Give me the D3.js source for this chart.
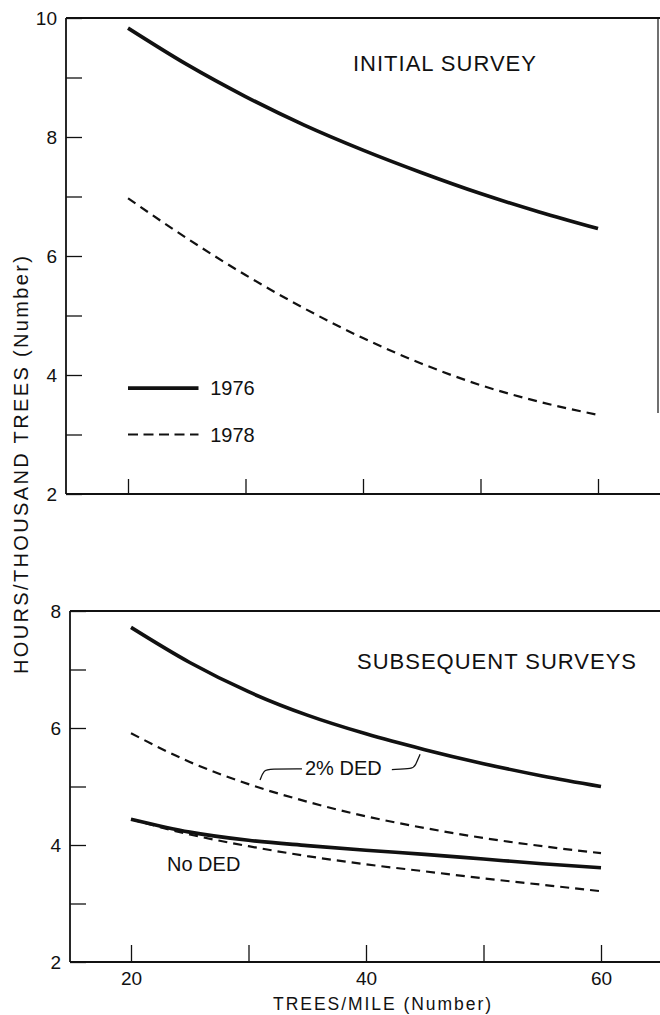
<!doctype html>
<html lang="en">
<head>
    <meta charset="UTF-8">
    <title>Hours per thousand trees</title>
    <style>
        body { margin: 0; background: #fff; }
        svg text { font-family: "Liberation Sans", Arial, Helvetica, sans-serif; fill: #111; }
        .tick line { stroke: #111; stroke-width: 1.3; }
        .tick text { font-size: 19px; }
    </style>
</head>
<body>
<svg id="chart" width="660" height="1015"></svg>
<script src="https://d3js.org/d3.v7.min.js"></script>
<script>
    // trees per mile (x) and hours per thousand trees (y)
    const trees = [20, 25, 30, 35, 40, 45, 50, 55, 60];
    const initial1976 = [9.83, 9.22, 8.68, 8.20, 7.78, 7.40, 7.05, 6.74, 6.46];
    const initial1978 = [6.97, 6.30, 5.68, 5.12, 4.62, 4.19, 3.83, 3.55, 3.33];
    const ded1976 = [7.72, 7.12, 6.62, 6.22, 5.90, 5.63, 5.39, 5.18, 5.00];
    const ded1978 = [5.91, 5.42, 5.04, 4.74, 4.49, 4.29, 4.12, 3.98, 3.86];
    const noDed1976 = [4.44, 4.22, 4.08, 3.99, 3.91, 3.84, 3.76, 3.68, 3.61];
    const noDed1978 = [4.44, 4.18, 3.98, 3.81, 3.67, 3.55, 3.43, 3.32, 3.21];

    const xTicks = [20, 30, 40, 50, 60];
    const xLabels = [20, 40, 60];
    const topYTicks = [2, 3, 4, 5, 6, 7, 8, 9, 10];
    const botYTicks = [2, 3, 4, 5, 6, 7, 8];

    const svg = d3.select("#chart");
    const ink = "#111";

    // panel frames
    const upper = {left: 66, top: 18, bottom: 494, right: 660},
        lower = {left: 70, top: 611, bottom: 962, right: 660};

    const xTop = d3.scaleLinear().domain([20, 60]).range([128, 598]);
    const yTop = d3.scaleLinear().domain([2, 10]).range([upper.bottom, upper.top]);
    const xBot = d3.scaleLinear().domain([20, 60]).range([131, 601]);
    const yBot = d3.scaleLinear().domain([2, 8]).range([lower.bottom, lower.top]);

    function frame(p, rightEnd) {
        let g = svg.append("g").attr("stroke", ink).attr("stroke-width", 1.8).attr("fill", "none");
        g.append("line").attr("x1", p.left).attr("x2", p.right).attr("y1", p.top).attr("y2", p.top);
        g.append("line").attr("x1", p.left).attr("x2", p.right).attr("y1", p.bottom).attr("y2", p.bottom);
        g.append("line").attr("x1", p.left).attr("x2", p.left).attr("y1", p.top).attr("y2", p.bottom);
        if (rightEnd) {
            g.append("line").attr("x1", 658).attr("x2", 658).attr("y1", p.top).attr("y2", rightEnd)
                .attr("stroke-width", 1.2);
        }
    }
    frame(upper, 413);
    frame(lower, null);

    // y axes, ticks pointing inwards, labels on even values only
    svg.append("g")
        .attr("transform", "translate(" + upper.left + ",0)")
        .call(d3.axisLeft(yTop).tickValues(topYTicks).tickSize(-16).tickPadding(9)
            .tickFormat(d => d % 2 === 0 ? d : ""))
        .call(g => g.select(".domain").remove());

    svg.append("g")
        .attr("transform", "translate(" + lower.left + ",0)")
        .call(d3.axisLeft(yBot).tickValues(botYTicks).tickSize(-16).tickPadding(9)
            .tickFormat(d => d % 2 === 0 ? d : ""))
        .call(g => g.select(".domain").remove());

    // x axes
    svg.append("g")
        .attr("transform", "translate(0," + upper.bottom + ")")
        .call(d3.axisBottom(xTop).tickValues(xTicks).tickSize(-15).tickFormat(""))
        .call(g => g.select(".domain").remove());

    svg.append("g")
        .attr("transform", "translate(0," + lower.bottom + ")")
        .call(d3.axisBottom(xBot).tickValues(xTicks).tickSize(-17).tickPadding(10)
            .tickFormat(d => xLabels.includes(d) ? d : ""))
        .call(g => g.select(".domain").remove());

    // curves
    function curve(xs, ys, x, y, dashed) {
        let line = d3.line()
            .x((d, i) => x(xs[i]))
            .y(d => y(d))
            .curve(d3.curveMonotoneX);
        svg.append("path")
            .datum(ys)
            .attr("fill", "none")
            .attr("stroke", ink)
            .attr("stroke-width", dashed ? 2.2 : 3.6)
            .attr("stroke-dasharray", dashed ? "9,6" : null)
            .attr("d", line);
    }
    curve(trees, initial1976, xTop, yTop, false);
    curve(trees, initial1978, xTop, yTop, true);
    curve(trees, ded1976, xBot, yBot, false);
    curve(trees, ded1978, xBot, yBot, true);
    curve(trees, noDed1976, xBot, yBot, false);
    curve(trees, noDed1978, xBot, yBot, true);

    // legend
    const legend = [
        {label: "1976", y: 3.78, dashed: false},
        {label: "1978", y: 3.0, dashed: true}
    ];
    legend.forEach(function (l) {
        svg.append("line")
            .attr("x1", xTop(20)).attr("x2", xTop(26))
            .attr("y1", yTop(l.y)).attr("y2", yTop(l.y))
            .attr("stroke", ink)
            .attr("stroke-width", l.dashed ? 2.2 : 3.6)
            .attr("stroke-dasharray", l.dashed ? "10,5.5" : null);
        svg.append("text")
            .attr("x", xTop(27)).attr("y", yTop(l.y))
            .attr("dy", "0.36em")
            .attr("font-size", 20)
            .text(l.label);
    });

    // titles
    svg.append("text")
        .attr("x", 353).attr("y", 71)
        .attr("font-size", 22).attr("letter-spacing", 1)
        .text("INITIAL SURVEY");
    svg.append("text")
        .attr("x", 357).attr("y", 669)
        .attr("font-size", 22).attr("letter-spacing", 1)
        .text("SUBSEQUENT SURVEYS");

    // annotations
    svg.append("text")
        .attr("x", 305).attr("y", 775)
        .attr("font-size", 20)
        .text("2% DED");
    svg.append("text")
        .attr("x", 167).attr("y", 871)
        .attr("font-size", 20)
        .text("No DED");

    let leader = d3.line().x(d => xBot(d[0])).y(d => yBot(d[1])).curve(d3.curveBasis);
    svg.append("path")
        .attr("d", leader([[30.98, 5.11], [31.3, 5.28], [31.8, 5.30], [34.55, 5.30]]))
        .attr("fill", "none").attr("stroke", ink).attr("stroke-width", 1.3);
    svg.append("path")
        .attr("d", leader([[42.2, 5.29], [44.0, 5.30], [44.2, 5.36], [44.6, 5.55]]))
        .attr("fill", "none").attr("stroke", ink).attr("stroke-width", 1.3);

    // axis titles
    svg.append("text")
        .attr("transform", "translate(28,465) rotate(-90)")
        .attr("text-anchor", "middle")
        .attr("font-size", 20)
        .attr("textLength", 418).attr("lengthAdjust", "spacing")
        .text("HOURS/THOUSAND TREES (Number)");
    svg.append("text")
        .attr("x", 382).attr("y", 1010)
        .attr("text-anchor", "middle")
        .attr("font-size", 17.5)
        .attr("textLength", 218).attr("lengthAdjust", "spacing")
        .text("TREES/MILE (Number)");
</script>
</body>
</html>
